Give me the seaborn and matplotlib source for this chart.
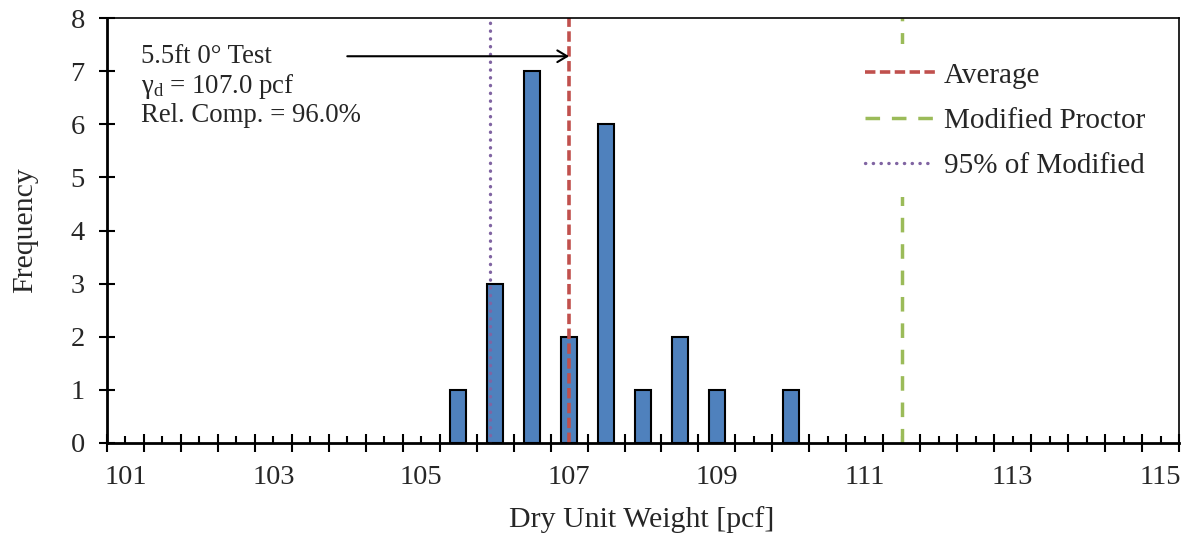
import numpy as np
import pandas as pd
import matplotlib
matplotlib.use("Agg")
import matplotlib.pyplot as plt
import seaborn as sns
from matplotlib.ticker import FixedLocator, FixedFormatter

# Histogram of dry unit weight (bin centres every 0.5 pcf, non-empty bins only)
bin_centers = [105.5, 106.0, 106.5, 107.0, 107.5, 108.0, 108.5, 109.0, 110.0]
frequency = [1, 3, 7, 2, 6, 1, 2, 1, 1]

# Reference values [pcf]
average_weight = 107.0
modified_proctor = 111.5
fraction_of_modified = 0.95

x_tick_labels = ["101", "103", "105", "107", "109", "111", "113", "115"]
y_ticks = [0, 1, 2, 3, 4, 5, 6, 7, 8]

bar_color = "#4F81BD"
avg_color = "#C0504D"
proctor_color = "#9BBB59"
pct_color = "#8064A2"

sns.set_style("ticks")
plt.rcParams["font.family"] = ["Liberation Serif", "DejaVu Serif"]
plt.rcParams["mathtext.fontset"] = "custom"
plt.rcParams["mathtext.rm"] = "Liberation Serif"
plt.rcParams["mathtext.it"] = "Liberation Serif:italic"
plt.rcParams["lines.scale_dashes"] = False

fig = plt.figure(figsize=(11.9, 5.4), dpi=100)
ax = fig.add_axes([107 / 1190, 1 - 443 / 540, 1072 / 1190, 425 / 540])

df = pd.DataFrame({"weight": bin_centers, "count": frequency})
sns.barplot(data=df, x="weight", y="count", native_scale=True, width=0.42,
            color=bar_color, saturation=1, edgecolor="black", linewidth=1.5,
            ax=ax, zorder=2)

pct_weight = fraction_of_modified * modified_proctor
ax.axvline(average_weight, color=avg_color, lw=2.6, linestyle=(0, (7.5, 3.2)),
           label="Average", zorder=3)
ax.axvline(modified_proctor, color=proctor_color, lw=2.5,
           linestyle=(0, (10.5, 8.5)), label="Modified Proctor", zorder=3)
ax.axvline(pct_weight, color=pct_color, lw=2.4, linestyle=(0, (0.2, 5.4)),
           dash_capstyle="round", label="95% of Modified", zorder=3)

# Axis limits: category-style axis, each bin 0.5 pcf wide
ax.set_xlim(100.75, 115.25)
ax.set_ylim(0, 8)

edges = np.arange(100.75, 115.26, 0.5)
centers = np.arange(101.0, 115.01, 0.5)
ax.xaxis.set_major_locator(FixedLocator(edges))
ax.xaxis.set_major_formatter(FixedFormatter([""] * len(edges)))
ax.xaxis.set_minor_locator(FixedLocator(centers))
minor_labels = []
label_iter = iter(x_tick_labels)
for i in range(len(centers)):
    minor_labels.append(next(label_iter) if i % 4 == 0 else "")
ax.xaxis.set_minor_formatter(FixedFormatter(minor_labels))
ax.tick_params(axis="x", which="major", direction="inout", length=13,
               width=1.5, color="black")
ax.tick_params(axis="x", which="minor", direction="in", length=4.8,
               width=1.5, pad=16, labelsize=20.5, color="black")
ax.set_yticks(y_ticks)
ax.tick_params(axis="y", which="major", direction="inout", length=12,
               width=1.5, pad=10, labelsize=20.5, color="black")

for side in ["left", "bottom"]:
    ax.spines[side].set_linewidth(2.0)
for side in ["top", "right"]:
    ax.spines[side].set_linewidth(1.2)
for sp in ax.spines.values():
    sp.set_color("black")
    sp.set_visible(True)
    sp.set_zorder(4)

ax.set_xlabel("Dry Unit Weight [pcf]", fontsize=21.5)
ax.set_ylabel("Frequency", fontsize=21.5)
ax.xaxis.set_label_coords(0.499, -0.181)
ax.xaxis.label.set_va("center")
ax.yaxis.set_label_coords(-0.076, 0.5)
ax.yaxis.label.set_va("center")

# Test annotation
rel_comp = average_weight / modified_proctor * 100
ax.text(0.0317, 0.894, "5.5ft 0° Test", transform=ax.transAxes,
        fontsize=19.3, va="baseline", ha="left")
ax.text(0.0317, 0.8235, r"$\mathregular{γ_d}$" + f" = {average_weight:.1f} pcf",
        transform=ax.transAxes, fontsize=19.3, va="baseline", ha="left")
ax.text(0.0317, 0.7553, f"Rel. Comp. = {rel_comp:.1f}%",
        transform=ax.transAxes, fontsize=19.3, va="baseline", ha="left")
ax.annotate("", xy=(average_weight, 7.28), xytext=(104.0, 7.28),
            arrowprops=dict(arrowstyle="->,head_length=0.7,head_width=0.42",
                            lw=1.5, color="black", shrinkA=0, shrinkB=0),
            zorder=5)

leg = ax.legend(loc="upper left", bbox_to_anchor=(0.6903, 0.9388),
                fontsize=21, frameon=True, fancybox=False, framealpha=1,
                facecolor="white", edgecolor="none", handlelength=2.4,
                handletextpad=0.3, labelspacing=0.65, borderpad=0.62,
                borderaxespad=0)
leg.set_zorder(6)

fig.savefig("out.png", dpi=100, facecolor="white")
